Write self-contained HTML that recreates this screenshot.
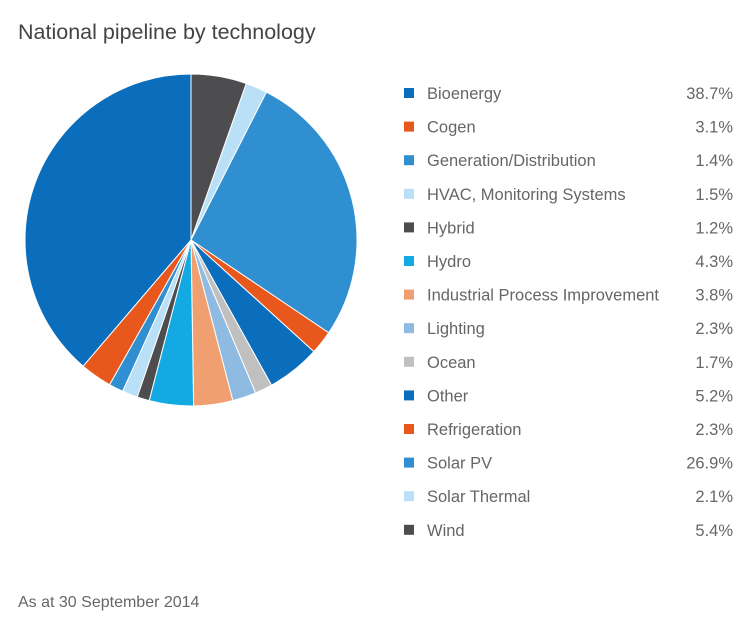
<!DOCTYPE html>
<html><head><meta charset="utf-8"><style>
body{margin:0;background:#fff;font-family:"Liberation Sans",sans-serif;}
#wrap{position:relative;width:754px;height:625px;overflow:hidden;}
</style></head><body>
<div id="wrap">
<svg id="chart" width="754" height="625">
<text x="18" y="39" font-size="21.5" fill="#444">National pipeline by technology</text>
<text x="18" y="607" font-size="16" fill="#666">As at 30 September 2014</text>
</svg>
</div>
<script>
const categories=["Bioenergy","Cogen","Generation/Distribution","HVAC, Monitoring Systems","Hybrid","Hydro","Industrial Process Improvement","Lighting","Ocean","Other","Refrigeration","Solar PV","Solar Thermal","Wind"];
const values=[38.7,3.1,1.4,1.5,1.2,4.3,3.8,2.3,1.7,5.2,2.3,26.9,2.1,5.4];
const valueLabels=["38.7%","3.1%","1.4%","1.5%","1.2%","4.3%","3.8%","2.3%","1.7%","5.2%","2.3%","26.9%","2.1%","5.4%"];
const colors=["#0a6ebd","#e8581c","#2f8fd1","#b9e0f7","#4d4d4f","#13a9e3","#f0a070","#8fbbe3","#c0c0c0","#0a6ebd","#e8581c","#2f8fd1","#b9e0f7","#4d4d4f"];
const svg=document.getElementById('chart');
const NS="http://www.w3.org/2000/svg";
const cx=191,cy=240,r=166;
const total=values.reduce((a,b)=>a+b,0);
function pt(frac){const a=frac*2*Math.PI;return [cx+r*Math.sin(a),cy-r*Math.cos(a)];}
let acc=0;
for(let i=values.length-1;i>=0;i--){
  const f0=acc/total;acc+=values[i];const f1=acc/total;
  const [x0,y0]=pt(f0),[x1,y1]=pt(f1);
  const large=(f1-f0)>0.5?1:0;
  const p=document.createElementNS(NS,'path');
  p.setAttribute('d',`M${cx},${cy}L${x0},${y0}A${r},${r} 0 ${large} 1 ${x1},${y1}Z`);
  p.setAttribute('fill',colors[i]);p.setAttribute('stroke','#fff');p.setAttribute('stroke-width','1');
  
  
  svg.appendChild(p);
}
categories.forEach((c,i)=>{
  const y=93+i*33.6;
  const g=document.createElementNS(NS,'g');
  
  
  const s=document.createElementNS(NS,'rect');
  s.setAttribute('x',404);s.setAttribute('y',y-5);s.setAttribute('width',10);s.setAttribute('height',10);s.setAttribute('fill',colors[i]);
  const t=document.createElementNS(NS,'text');
  t.setAttribute('x',427);t.setAttribute('y',y+6);t.setAttribute('font-size','16.5');t.setAttribute('fill','#666');t.textContent=c;
  const v=document.createElementNS(NS,'text');
  v.setAttribute('x',733);v.setAttribute('y',y+6);v.setAttribute('font-size','16.5');v.setAttribute('fill','#666');v.setAttribute('text-anchor','end');v.textContent=valueLabels[i];
  g.appendChild(s);g.appendChild(t);g.appendChild(v);svg.appendChild(g);
});
</script>
</body></html>
